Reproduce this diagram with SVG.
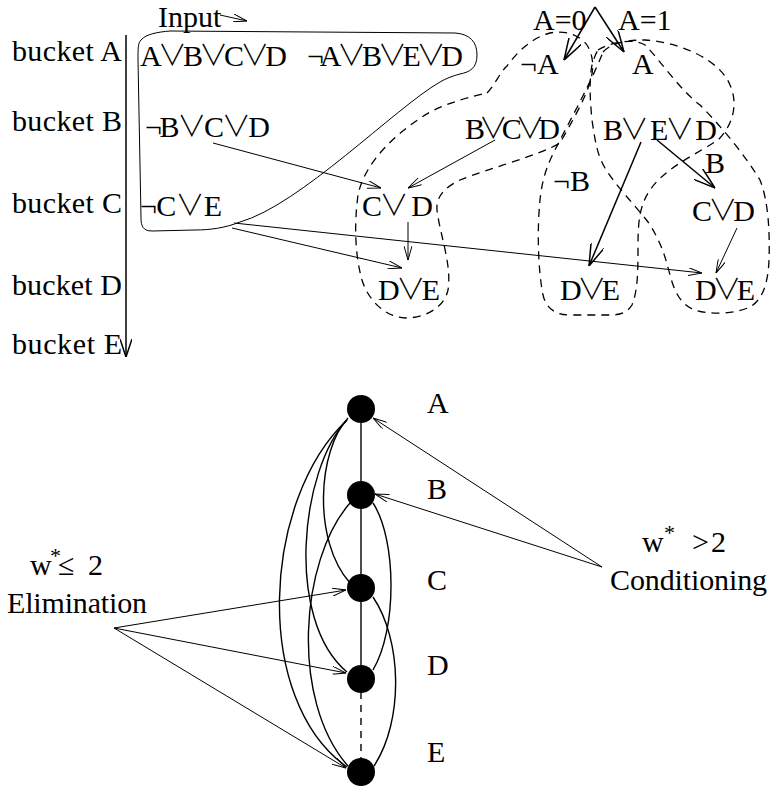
<svg xmlns="http://www.w3.org/2000/svg" width="770" height="788" viewBox="0 0 770 788">
<style>
text{font-family:'Liberation Serif','DejaVu Serif',serif;font-size:30px;fill:#000}
.v{font-family:'Noto Sans CJK JP','DejaVu Serif',sans-serif;font-weight:300;font-size:29px}
.ln{fill:none;stroke:#000;stroke-width:1}
.th{fill:none;stroke:#000;stroke-width:1.5}
.ds{fill:none;stroke:#000;stroke-width:1.3;stroke-dasharray:8 6}
.edge{fill:none;stroke:#000;stroke-width:1.4}
.dot{fill:#000}
</style>
<defs>
<marker id="ah" viewBox="0 0 14 8" refX="14" refY="4" markerWidth="14" markerHeight="8" orient="auto" markerUnits="userSpaceOnUse"><path d="M0,0 L14,4 L0,8" fill="none" stroke="#000" stroke-width="1"/></marker>
<marker id="ahb" viewBox="0 0 22 14" refX="22" refY="7" markerWidth="22" markerHeight="14" orient="auto" markerUnits="userSpaceOnUse"><path d="M0,0 L22,7 L0,14" fill="none" stroke="#000" stroke-width="1.5"/></marker>
<marker id="ahv" viewBox="0 0 18 12" refX="18" refY="6" markerWidth="18" markerHeight="12" orient="auto" markerUnits="userSpaceOnUse"><path d="M0,0 L18,6 L0,12" fill="none" stroke="#000" stroke-width="1.5"/></marker>
</defs>

<g id="buckets">
<text x="12" y="61" textLength="110" lengthAdjust="spacing">bucket A</text>
<text x="12" y="131" textLength="110" lengthAdjust="spacing">bucket B</text>
<text x="12" y="213" textLength="110" lengthAdjust="spacing">bucket C</text>
<text x="12" y="295" textLength="110" lengthAdjust="spacing">bucket D</text>
<text x="12" y="354" textLength="110" lengthAdjust="spacing">bucket E</text>
</g>

<g id="input-box">
<path class="ln" d="M141,40 C146,34 158,32 170,31 L455,33 C470,34 477,42 477,55 C477,68 470,72 460,74 C452,76 445,79 440,82 C395,108 300,205 240,222 C225,228 210,230 195,230 L152,231 C143,231 141,226 141,218 L138,60 C138,48 138,43 141,40 Z"/>
<text x="158" y="27">Input</text>
</g>

<g id="clauses">
<text x="140" y="66" textLength="147" lengthAdjust="spacing">A<tspan class="v">∨</tspan>B<tspan class="v">∨</tspan>C<tspan class="v">∨</tspan>D</text>
<text x="307" y="66" textLength="156" lengthAdjust="spacing">¬A<tspan class="v">∨</tspan>B<tspan class="v">∨</tspan>E<tspan class="v">∨</tspan>D</text>
<text x="145" y="137" textLength="125" lengthAdjust="spacing">¬B<tspan class="v">∨</tspan>C<tspan class="v">∨</tspan>D</text>
<text x="140" y="216" textLength="82" lengthAdjust="spacing">¬C<tspan class="v">∨</tspan>E</text>
<text x="362" y="216" textLength="71" lengthAdjust="spacing">C<tspan class="v">∨</tspan> D</text>
<text x="378" y="300" textLength="62" lengthAdjust="spacing">D<tspan class="v">∨</tspan>E</text>
<text x="465" y="139" textLength="95" lengthAdjust="spacing">B<tspan class="v">∨</tspan>C<tspan class="v">∨</tspan>D</text>
<text x="603" y="140" textLength="114" lengthAdjust="spacing">B<tspan class="v">∨</tspan> E<tspan class="v">∨</tspan> D</text>
<text x="520" y="74">¬A</text>
<text x="632" y="74">A</text>
<text x="533" y="30">A=0</text>
<text x="618" y="30">A=1</text>
<text x="553" y="191">¬B</text>
<text x="705" y="173">B</text>
<text x="692" y="221" textLength="63" lengthAdjust="spacing">C<tspan class="v">∨</tspan>D</text>
<text x="560" y="300" textLength="60" lengthAdjust="spacing">D<tspan class="v">∨</tspan>E</text>
<text x="695" y="300" textLength="60" lengthAdjust="spacing">D<tspan class="v">∨</tspan>E</text>
</g>

<g id="dashed-loops">
<path class="ds" d="M487,93 C495,85 500,72 507,66 C515,55 530,38 550,33 C565,30 580,35 587,45 C594,56 594,70 590,82 C585,100 570,125 560,143 C540,155 490,168 460,180 C443,188 436,198 437,210 C440,235 452,265 448,290 C444,308 425,318 405,318 C385,317 368,300 362,280 C355,255 354,225 358,195 C365,160 400,130 430,112 C450,102 470,97 487,93 Z"/>
<path class="ds" d="M603,52 C612,42 630,40 645,40 C680,42 720,60 730,85 C737,100 736,122 718,140 C695,155 665,168 650,190 C640,205 638,220 638,245 C638,270 638,290 632,305 C627,313 620,315 610,315 L570,315 C555,315 546,308 543,295 C538,270 537,230 540,200 C542,180 547,165 555,150 C570,120 590,85 603,52 Z"/>
<path class="ds" d="M598,50 C610,42 635,38 645,45 C660,60 680,90 700,105 C720,125 745,155 760,180 C768,200 770,230 769,260 C768,285 762,300 750,307 C735,314 710,315 695,310 C680,305 674,290 670,275 C665,255 660,240 648,222 C635,205 615,185 605,168 C597,155 595,140 592,120 C590,100 589,80 592,65 C594,58 596,53 598,50 Z"/>
</g>

<g id="connectors-top">
<path class="th" d="M126,35 L126,357" marker-end="url(#ahv)"/>
<path class="ln" d="M220,15 L247,21" marker-end="url(#ah)"/>
<path class="th" d="M595,7 L564,60" marker-end="url(#ahb)"/>
<path class="th" d="M595,7 L624,52" marker-end="url(#ahb)"/>
<path class="th" d="M641,142 L589,266" marker-end="url(#ahb)"/>
<path class="th" d="M657,140 L715,188" marker-end="url(#ahb)"/>
<path class="ln" d="M737,228 L716,273" marker-end="url(#ah)"/>
<path class="ln" d="M234,223 L702,273" marker-end="url(#ah)"/>
<path class="ln" d="M232,228 L402,268" marker-end="url(#ah)"/>
<path class="ln" d="M213,143 L381,188" marker-end="url(#ah)"/>
<path class="ln" d="M495,140 L408,188" marker-end="url(#ah)"/>
<path class="ln" d="M408,222 L408,260" marker-end="url(#ah)"/>
</g>

<g id="graph-edges">
<path class="edge" d="M361,409 L361,679"/>
<path class="edge" d="M361,679 L361,772" stroke-dasharray="7 6"/>
<path class="edge" d="M348,418 C318,450 312,540 350,583"/>
<path class="edge" d="M347,420 C300,470 285,620 347,672"/>
<path class="edge" d="M347,420 C262,500 252,700 347,767"/>
<path class="edge" d="M350,503 C300,560 290,700 348,766"/>
<path class="edge" d="M373,503 C397,540 397,630 373,670"/>
<path class="edge" d="M373,597 C402,640 404,720 374,766"/>
</g>

<g id="node-A"><circle class="dot" cx="361" cy="409" r="14"/><text x="427" y="413">A</text></g>
<g id="node-B"><circle class="dot" cx="361" cy="495" r="14"/><text x="427" y="499">B</text></g>
<g id="node-C"><circle class="dot" cx="361" cy="588" r="14"/><text x="427" y="590">C</text></g>
<g id="node-D"><circle class="dot" cx="361" cy="679" r="14"/><text x="427" y="675">D</text></g>
<g id="node-E"><circle class="dot" cx="361" cy="772" r="14"/><text x="427" y="762">E</text></g>

<g id="elimination">
<text x="30" y="575">w<tspan x="50" dy="-12" font-size="22">*</tspan><tspan x="58" dy="12">≤</tspan><tspan x="88">2</tspan></text>
<text x="7" y="613" textLength="140" lengthAdjust="spacing">Elimination</text>
</g>
<g id="conditioning">
<text x="642" y="552">w<tspan x="664" dy="-12" font-size="22">*</tspan><tspan x="692" dy="12">&gt;</tspan><tspan x="711">2</tspan></text>
<text x="610" y="590" textLength="157" lengthAdjust="spacing">Conditioning</text>
</g>

<g id="connectors-bottom">
<path class="ln" d="M114,628 L346,590" marker-end="url(#ah)"/>
<path class="ln" d="M114,628 L346,673" marker-end="url(#ah)"/>
<path class="ln" d="M114,628 L346,768" marker-end="url(#ah)"/>
<path class="ln" d="M602,567 L373,418" marker-end="url(#ah)"/>
<path class="ln" d="M602,567 L375,494" marker-end="url(#ah)"/>
</g>
</svg>
